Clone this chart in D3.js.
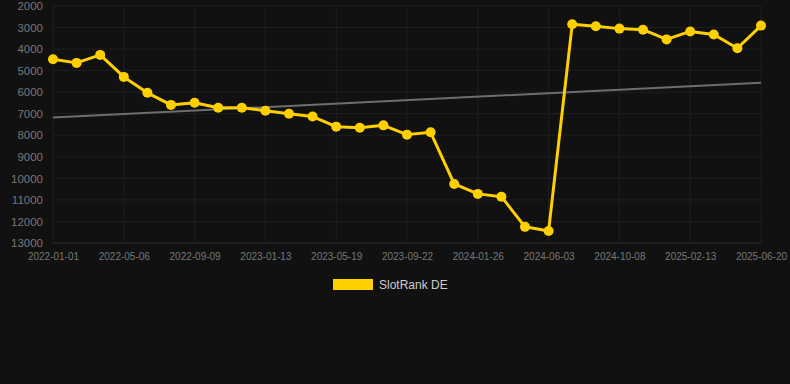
<!DOCTYPE html>
<html>
<head>
<meta charset="utf-8">
<script src="https://cdn.jsdelivr.net/npm/d3@7"></script>
<style>
  html, body { margin: 0; padding: 0; background: #111111; }
  svg { display: block; font-family: Arial, "Liberation Sans", sans-serif; }
</style>
</head>
<body>
<svg id="chart" width="790" height="384"></svg>
<script>
// fechas de cada punto (cada 3 lleva etiqueta)
const dates = [
  "2022-01-01", "2022-02-12", "2022-03-25", "2022-05-06", "2022-06-17", "2022-07-29",
  "2022-09-09", "2022-10-21", "2022-12-02", "2023-01-13", "2023-02-24", "2023-04-07",
  "2023-05-19", "2023-06-30", "2023-08-11", "2023-09-22", "2023-11-03", "2023-12-15",
  "2024-01-26", "2024-03-08", "2024-04-22", "2024-06-03", "2024-07-15", "2024-08-26",
  "2024-10-08", "2024-11-19", "2024-12-31", "2025-02-13", "2025-03-27", "2025-05-08",
  "2025-06-20"
];

const ranks = [
  4470, 4640, 4270, 5290, 6030, 6590, 6490, 6720, 6720, 6860, 7000, 7130,
  7600, 7650, 7540, 7970, 7860, 10260, 10720, 10850, 12250, 12440,
  2850, 2940, 3050, 3100, 3550, 3180, 3320, 3960, 2910
];

const trendStart = 7180;
const trendEnd = 5560;

const yTicks = [2000, 3000, 4000, 5000, 6000, 7000, 8000, 9000, 10000, 11000, 12000, 13000];
const xTickLabels = dates.filter((d, i) => i % 3 === 0);

const seriesName = "SlotRank DE";

function drawChart(selector) {
    const svg = d3.select(selector);
    svg.selectAll("*").remove();

    const left = 53, right = 761, top = 6, bottom = 243;

    const x = d3.scalePoint().domain(dates).range([left, right]);
    const y = d3.scaleLinear().domain([2000, 13000]).range([top, bottom]);

    // rejilla
    const grid = svg.append("g");
    grid.selectAll(".hgrid").data(yTicks).enter()
        .append("line")
        .attr("x1", left).attr("x2", right)
        .attr("y1", d => y(d)).attr("y2", d => y(d))
        .attr("stroke", d => d === 13000 ? "#2e2e2e" : "#1f1f1f")
        .attr("stroke-width", 1);
    grid.selectAll(".vgrid").data(xTickLabels).enter()
        .append("line")
        .attr("x1", d => x(d)).attr("x2", d => x(d))
        .attr("y1", top).attr("y2", bottom)
        .attr("stroke", "#1f1f1f")
        .attr("stroke-width", 1);

    // ejes
    const yAxis = svg.append("g")
        .attr("transform", `translate(${left - 10},0)`)
        .call(d3.axisLeft(y).tickValues(yTicks).tickFormat(d3.format("d")).tickSize(0).tickPadding(0));
    yAxis.select(".domain").remove();
    yAxis.selectAll("text")
        .attr("fill", "#777")
        .style("font-size", "11.5px")
        .style("font-family", "Arial, 'Liberation Sans', sans-serif");

    const xAxis = svg.append("g")
        .attr("transform", `translate(0,${bottom + 10})`)
        .call(d3.axisBottom(x).tickValues(xTickLabels).tickSize(0).tickPadding(0));
    xAxis.select(".domain").remove();
    xAxis.selectAll("text")
        .attr("fill", "#777")
        .style("font-size", "10px")
        .style("font-family", "Arial, 'Liberation Sans', sans-serif");

    // tendencia
    svg.append("line")
        .attr("x1", x(dates[0])).attr("y1", y(trendStart))
        .attr("x2", x(dates[dates.length - 1])).attr("y2", y(trendEnd))
        .attr("stroke", "#6e6e6e")
        .attr("stroke-width", 2);

    const values = dates.map((d, i) => ({ date: d, rank: ranks[i] }));

    const line = d3.line()
        .x(d => x(d.date))
        .y(d => y(d.rank));

    svg.append("path")
        .datum(values)
        .attr("fill", "none")
        .attr("stroke", "#ffd000")
        .attr("stroke-width", 3)
        .attr("stroke-linejoin", "round")
        .attr("d", line);

    svg.selectAll(".point").data(values).enter()
        .append("circle")
        .attr("class", "point")
        .attr("cx", d => x(d.date))
        .attr("cy", d => y(d.rank))
        .attr("r", 5)
        .attr("fill", "#ffd000");

    // leyenda
    const legend = svg.append("g").attr("transform", "translate(333,279)");
    legend.append("rect")
        .attr("width", 40).attr("height", 11)
        .attr("fill", "#ffd000");
    legend.append("text")
        .attr("x", 46).attr("y", 5.5)
        .attr("dy", "0.35em")
        .attr("fill", "#cccccc")
        .style("font-size", "12px")
        .text(seriesName);
}

drawChart("#chart");
</script>
</body>
</html>
